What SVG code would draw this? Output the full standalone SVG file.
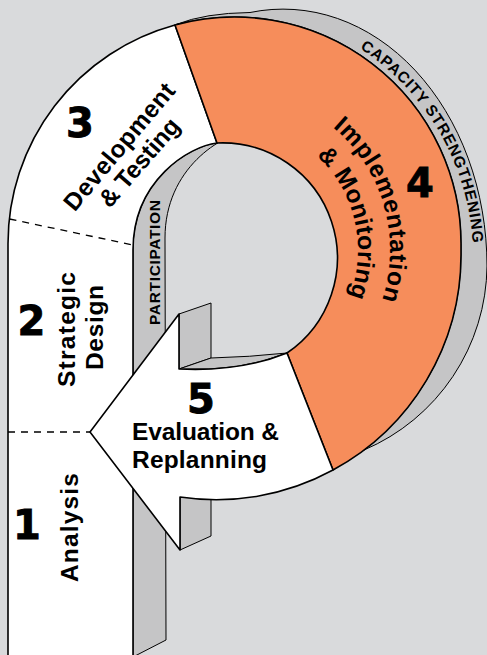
<svg xmlns="http://www.w3.org/2000/svg" width="487" height="655" viewBox="0 0 487 655">
  <style>
    .front { stroke:#000; stroke-width:1.6; stroke-linejoin:round; }
    .white { fill:#ffffff; }
    .orange { fill:#f68d5b; }
    .side { fill:#c5c5c6; stroke:#000; stroke-width:1; stroke-linejoin:round; }
    .dash { fill:none; stroke:#000; stroke-width:1.3; stroke-dasharray:7 6; }
    .num { font-family:"DejaVu Sans","Liberation Sans",sans-serif; font-weight:bold; font-size:40px; fill:#000; stroke:#000; stroke-width:0.9; }
    .lbl { font-family:"Liberation Sans",Arial,sans-serif; font-weight:bold; font-size:24.5px; fill:#000; }
    .side-lbl { font-family:"Liberation Sans",Arial,sans-serif; font-weight:bold; font-size:15.5px; fill:#000; }
  </style>
  <defs>
    <path id="arc-impl" d="M269.2,94.9 A160 160 0 0 1 344.7,361.6"/>
    <path id="arc-mon" d="M267.4,127.6 A128 128 0 0 1 317.3,343.6"/>
    <path id="arc-cap" d="M288.4,16.5 A249 249 0 0 1 464.5,321.4"/>
  </defs>

  <rect width="487" height="655" fill="#d9dadc"/>

  <!-- side faces of the extruded P -->
  <g id="capacity-strengthening">
    <path class="side" d="M176,24.5 Q205,13 250,12.5 A204 257 0 0 1 487,266 A202 202 0 0 1 364,450 A244.5 244.5 0 0 0 461,255 L461,243.5 A226.5 226.5 0 0 0 176,24.5 Z"/>
    <text class="side-lbl" letter-spacing="0.8"><textPath href="#arc-cap" startOffset="50%" text-anchor="middle">CAPACITY STRENGTHENING</textPath></text>
  </g>

  <g id="participation">
    <path class="side" d="M217,143 C190,146 133,180 133,250 L133,657 L166,640 L165,238 C165,168 222,134 249,131 Z"/>
    <text class="side-lbl" font-size="16" transform="translate(160,262.5) rotate(-90)" text-anchor="middle" textLength="125" lengthAdjust="spacing">PARTICIPATION</text>
  </g>

  <g id="arrow-sides">
    <path class="side" d="M179,314 L211,303 L211,358 L179,369 Z"/>
    <path class="side" d="M179,369 Q240,372 287,353 Q250,357 211,358 Z"/>
    <path class="side" d="M180,490 L211,478 L211,536 L180,550 Z"/>
  </g>

  <!-- front faces -->
  <g id="stage-1-2-3">
    <path class="front white" d="M8,665 L8,243.5 A226.5 226.5 0 0 1 175,25 L217,143 C190,146 133,180 133,250 L133,665 Z"/>
  </g>

  <g id="stage-4">
    <path class="front orange" d="M175,25 A226.5 226.5 0 0 1 461,243.5 L461,255 A244.5 244.5 0 0 1 333,470 L287,353 A115 115 0 0 0 217,143 Z"/>
  </g>

  <g id="stage-5">
    <path class="front white" d="M287,353 L333,470 A244.5 244.5 0 0 1 180,497 L180,550 L90,432 L179,314 L179,369 Q240,372 287,353 Z"/>
  </g>

  <g id="dividers">
    <line class="dash" x1="9.5" y1="219" x2="133" y2="245"/>
    <line class="dash" x1="8" y1="432" x2="90" y2="432"/>
  </g>

  <!-- labels -->
  <g id="label-3">
    <text class="num" x="80" y="137" text-anchor="middle">3</text>
    <text class="lbl" transform="translate(125.6,151.9) rotate(-50)" text-anchor="middle" textLength="158" lengthAdjust="spacing">Development</text>
    <text class="lbl" transform="translate(145.6,167.9) rotate(-49)" text-anchor="middle" textLength="109" lengthAdjust="spacing">&amp; Testing</text>
  </g>
  <g id="label-2">
    <text class="num" x="31.5" y="335" text-anchor="middle">2</text>
    <text class="lbl" transform="translate(75,329.5) rotate(-90)" text-anchor="middle" textLength="115" lengthAdjust="spacing">Strategic</text>
    <text class="lbl" transform="translate(103,327.5) rotate(-90)" text-anchor="middle" textLength="85" lengthAdjust="spacing">Design</text>
  </g>
  <g id="label-1">
    <text class="num" x="27" y="539" text-anchor="middle">1</text>
    <text class="lbl" transform="translate(78,527.5) rotate(-90)" text-anchor="middle" textLength="109" lengthAdjust="spacing">Analysis</text>
  </g>
  <g id="label-5">
    <text class="num" x="201" y="413" text-anchor="middle">5</text>
    <text class="lbl" font-size="24" x="132" y="439.5" textLength="147" lengthAdjust="spacing">Evaluation &amp;</text>
    <text class="lbl" font-size="24" x="132" y="468" textLength="135" lengthAdjust="spacing">Replanning</text>
  </g>
  <g id="label-4">
    <text class="num" x="420" y="197" text-anchor="middle">4</text>
    <text class="lbl" font-size="24" letter-spacing="0.7"><textPath href="#arc-impl" startOffset="50%" text-anchor="middle">Implementation</textPath></text>
    <text class="lbl" font-size="24" letter-spacing="0.2"><textPath href="#arc-mon" startOffset="50%" text-anchor="middle">&amp; Monitoring</textPath></text>
  </g>
</svg>
